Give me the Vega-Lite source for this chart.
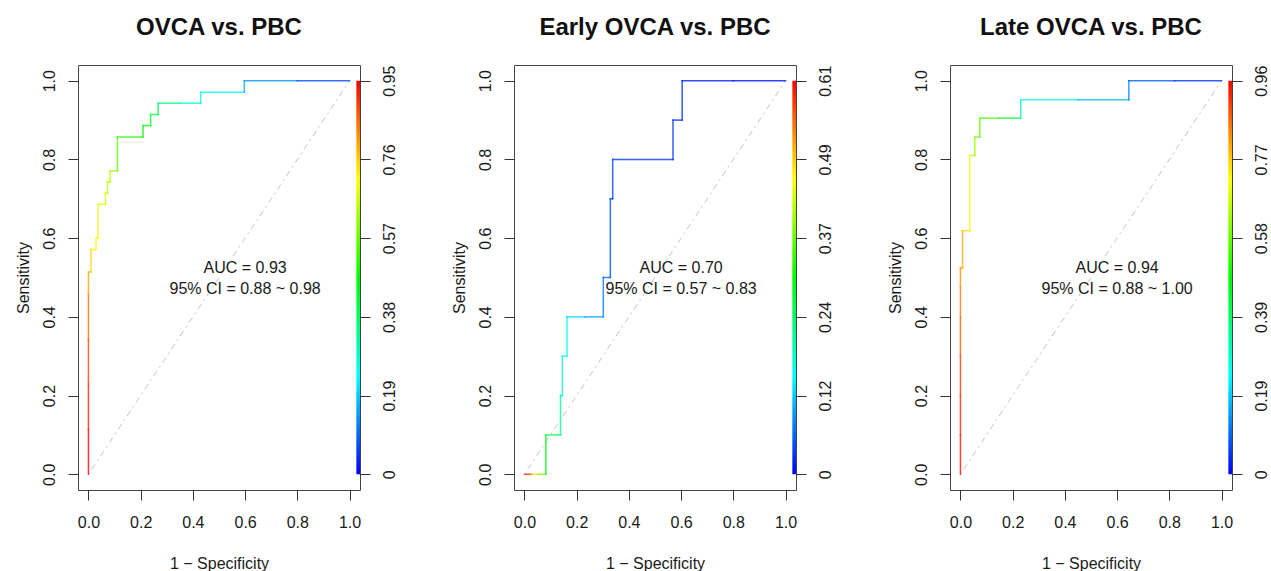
{
  "$schema": "https://vega.github.io/schema/vega-lite/v6.json",
  "background": "white",
  "padding": {"left": 14, "top": 15, "right": 0, "bottom": 0},
  "config": {
    "font": "Liberation Sans",
    "view": {"stroke": "#444", "strokeWidth": 1},
    "title": {"font": "Liberation Sans", "fontSize": 24, "fontWeight": "bold", "color": "#111", "anchor": "middle", "baseline": "alphabetic", "offset": 25, "frame": "group"},
    "axis": {"labelFont": "Liberation Sans", "labelFontSize": 16, "labelColor": "#1a1a1a", "titleFont": "Liberation Sans", "titleFontSize": 16, "titleFontWeight": "normal", "titleColor": "#1a1a1a", "tickSize": 10, "tickColor": "#333", "domain": false, "grid": false, "labelPadding": 11, "titlePadding": 10}
  },
  "datasets": {
    "p1": [
      {"i": 0, "fpr": 0, "tpr": 0, "cutoff": 0.95},
      {"i": 1, "fpr": 0, "tpr": 0.114, "cutoff": 0.92},
      {"i": 2, "fpr": 0, "tpr": 0.229, "cutoff": 0.89},
      {"i": 3, "fpr": 0, "tpr": 0.343, "cutoff": 0.85},
      {"i": 4, "fpr": 0, "tpr": 0.457, "cutoff": 0.8},
      {"i": 5, "fpr": 0, "tpr": 0.514, "cutoff": 0.77},
      {"i": 6, "fpr": 0.01, "tpr": 0.514, "cutoff": 0.75},
      {"i": 7, "fpr": 0.01, "tpr": 0.571, "cutoff": 0.73},
      {"i": 8, "fpr": 0.029, "tpr": 0.571, "cutoff": 0.72},
      {"i": 9, "fpr": 0.029, "tpr": 0.6, "cutoff": 0.71},
      {"i": 10, "fpr": 0.037, "tpr": 0.6, "cutoff": 0.7},
      {"i": 11, "fpr": 0.037, "tpr": 0.686, "cutoff": 0.69},
      {"i": 12, "fpr": 0.065, "tpr": 0.686, "cutoff": 0.675},
      {"i": 13, "fpr": 0.065, "tpr": 0.714, "cutoff": 0.67},
      {"i": 14, "fpr": 0.073, "tpr": 0.714, "cutoff": 0.66},
      {"i": 15, "fpr": 0.073, "tpr": 0.743, "cutoff": 0.655},
      {"i": 16, "fpr": 0.083, "tpr": 0.743, "cutoff": 0.645},
      {"i": 17, "fpr": 0.083, "tpr": 0.771, "cutoff": 0.63},
      {"i": 18, "fpr": 0.111, "tpr": 0.771, "cutoff": 0.56},
      {"i": 19, "fpr": 0.111, "tpr": 0.857, "cutoff": 0.51},
      {"i": 20, "fpr": 0.209, "tpr": 0.857, "cutoff": 0.47},
      {"i": 21, "fpr": 0.209, "tpr": 0.886, "cutoff": 0.455},
      {"i": 22, "fpr": 0.238, "tpr": 0.886, "cutoff": 0.43},
      {"i": 23, "fpr": 0.238, "tpr": 0.914, "cutoff": 0.415},
      {"i": 24, "fpr": 0.267, "tpr": 0.914, "cutoff": 0.39},
      {"i": 25, "fpr": 0.267, "tpr": 0.943, "cutoff": 0.36},
      {"i": 26, "fpr": 0.35, "tpr": 0.943, "cutoff": 0.29},
      {"i": 27, "fpr": 0.43, "tpr": 0.943, "cutoff": 0.25},
      {"i": 28, "fpr": 0.43, "tpr": 0.971, "cutoff": 0.24},
      {"i": 29, "fpr": 0.597, "tpr": 0.971, "cutoff": 0.16},
      {"i": 30, "fpr": 0.597, "tpr": 1.0, "cutoff": 0.14},
      {"i": 31, "fpr": 0.8, "tpr": 1.0, "cutoff": 0.07},
      {"i": 32, "fpr": 1.0, "tpr": 1.0, "cutoff": 0}
    ],
    "p2": [
      {"i": 0, "fpr": 0, "tpr": 0, "cutoff": 0.58},
      {"i": 1, "fpr": 0.027, "tpr": 0, "cutoff": 0.48},
      {"i": 2, "fpr": 0.055, "tpr": 0, "cutoff": 0.38},
      {"i": 3, "fpr": 0.082, "tpr": 0, "cutoff": 0.3},
      {"i": 4, "fpr": 0.082, "tpr": 0.1, "cutoff": 0.26},
      {"i": 5, "fpr": 0.138, "tpr": 0.1, "cutoff": 0.22},
      {"i": 6, "fpr": 0.138, "tpr": 0.2, "cutoff": 0.2},
      {"i": 7, "fpr": 0.145, "tpr": 0.2, "cutoff": 0.17},
      {"i": 8, "fpr": 0.145, "tpr": 0.3, "cutoff": 0.16},
      {"i": 9, "fpr": 0.163, "tpr": 0.3, "cutoff": 0.15},
      {"i": 10, "fpr": 0.163, "tpr": 0.4, "cutoff": 0.13},
      {"i": 11, "fpr": 0.23, "tpr": 0.4, "cutoff": 0.1},
      {"i": 12, "fpr": 0.302, "tpr": 0.4, "cutoff": 0.075},
      {"i": 13, "fpr": 0.302, "tpr": 0.5, "cutoff": 0.06},
      {"i": 14, "fpr": 0.329, "tpr": 0.5, "cutoff": 0.05},
      {"i": 15, "fpr": 0.329, "tpr": 0.7, "cutoff": 0.045},
      {"i": 16, "fpr": 0.338, "tpr": 0.7, "cutoff": 0.04},
      {"i": 17, "fpr": 0.338, "tpr": 0.8, "cutoff": 0.035},
      {"i": 18, "fpr": 0.569, "tpr": 0.8, "cutoff": 0.03},
      {"i": 19, "fpr": 0.569, "tpr": 0.9, "cutoff": 0.028},
      {"i": 20, "fpr": 0.604, "tpr": 0.9, "cutoff": 0.025},
      {"i": 21, "fpr": 0.604, "tpr": 1.0, "cutoff": 0.02},
      {"i": 22, "fpr": 0.8, "tpr": 1.0, "cutoff": 0.01},
      {"i": 23, "fpr": 1.0, "tpr": 1.0, "cutoff": 0}
    ],
    "p3": [
      {"i": 0, "fpr": 0, "tpr": 0, "cutoff": 0.95},
      {"i": 1, "fpr": 0, "tpr": 0.1, "cutoff": 0.93},
      {"i": 2, "fpr": 0, "tpr": 0.2, "cutoff": 0.91},
      {"i": 3, "fpr": 0, "tpr": 0.3, "cutoff": 0.88},
      {"i": 4, "fpr": 0, "tpr": 0.4, "cutoff": 0.85},
      {"i": 5, "fpr": 0, "tpr": 0.476, "cutoff": 0.83},
      {"i": 6, "fpr": 0, "tpr": 0.524, "cutoff": 0.81},
      {"i": 7, "fpr": 0.008, "tpr": 0.524, "cutoff": 0.8},
      {"i": 8, "fpr": 0.008, "tpr": 0.619, "cutoff": 0.76},
      {"i": 9, "fpr": 0.036, "tpr": 0.619, "cutoff": 0.72},
      {"i": 10, "fpr": 0.036, "tpr": 0.81, "cutoff": 0.66},
      {"i": 11, "fpr": 0.055, "tpr": 0.81, "cutoff": 0.63},
      {"i": 12, "fpr": 0.055, "tpr": 0.857, "cutoff": 0.6},
      {"i": 13, "fpr": 0.074, "tpr": 0.857, "cutoff": 0.58},
      {"i": 14, "fpr": 0.074, "tpr": 0.905, "cutoff": 0.55},
      {"i": 15, "fpr": 0.15, "tpr": 0.905, "cutoff": 0.42},
      {"i": 16, "fpr": 0.231, "tpr": 0.905, "cutoff": 0.3},
      {"i": 17, "fpr": 0.231, "tpr": 0.952, "cutoff": 0.25},
      {"i": 18, "fpr": 0.45, "tpr": 0.952, "cutoff": 0.18},
      {"i": 19, "fpr": 0.645, "tpr": 0.952, "cutoff": 0.12},
      {"i": 20, "fpr": 0.645, "tpr": 1.0, "cutoff": 0.09},
      {"i": 21, "fpr": 0.82, "tpr": 1.0, "cutoff": 0.05},
      {"i": 22, "fpr": 1.0, "tpr": 1.0, "cutoff": 0}
    ]
  },
  "spacing": 154,
  "bounds": "flush",
  "resolve": {"scale": {"color": "independent"}},
  "hconcat": [
    {
      "width": 282, "height": 425,
      "title": {"text": "OVCA vs. PBC"},
      "resolve": {"scale": {"y": "independent"}},
      "layer": [
        {
          "layer": [
            {
              "data": {"values": [{}]},
              "mark": {"type": "rule", "color": "#c4c4c4", "strokeWidth": 1, "strokeDash": [2, 4, 6, 4]},
              "encoding": {
                "x": {"datum": 0, "type": "quantitative", "scale": {"domain": [-0.04, 1.04], "nice": false, "zero": false}, "axis": {"values": [0, 0.2, 0.4, 0.6, 0.8, 1.0], "format": ".1f", "labelPadding": 14, "title": "1 − Specificity", "titlePadding": 25}},
                "y": {"datum": 0, "type": "quantitative", "scale": {"domain": [-0.04, 1.04], "nice": false, "zero": false}, "axis": {"orient": "left", "values": [0, 0.2, 0.4, 0.6, 0.8, 1.0], "format": ".1f", "labelAngle": -90, "title": "Sensitivity"}},
                "x2": {"datum": 1},
                "y2": {"datum": 1}
              }
            },
            {
              "data": {"name": "p1"},
              "transform": [
                {"window": [{"op": "lead", "field": "fpr", "as": "fpr2"}, {"op": "lead", "field": "tpr", "as": "tpr2"}], "sort": [{"field": "i"}]},
                {"filter": "datum.fpr2 != null"}
              ],
              "mark": {"type": "rule", "strokeWidth": 1.5, "strokeOpacity": 0.8, "strokeCap": "square"},
              "encoding": {
                "x": {"field": "fpr", "type": "quantitative"},
                "y": {"field": "tpr", "type": "quantitative"},
                "x2": {"field": "fpr2"},
                "y2": {"field": "tpr2"},
                "color": {"field": "cutoff", "type": "quantitative", "legend": null, "scale": {"domain": [0, 0.2375, 0.475, 0.7125, 0.95], "range": ["#0000ff", "#00ffff", "#00ff00", "#ffff00", "#ff0000"], "interpolate": "rgb"}}
              }
            },
            {
              "data": {"values": [{}]},
              "mark": {"type": "text", "font": "Liberation Sans", "fontSize": 16, "color": "#1a1a1a", "align": "center", "baseline": "middle", "lineBreak": "\n", "lineHeight": 21},
              "encoding": {
                "x": {"datum": 0.6, "type": "quantitative"},
                "y": {"datum": 0.524, "type": "quantitative"},
                "text": {"value": "AUC = 0.93\n95% CI = 0.88 ~ 0.98"}
              }
            }
          ]
        },
        {
          "data": {"values": [{}]},
          "mark": {"type": "rect", "color": {"gradient": "linear", "x1": 0, "y1": 1, "x2": 0, "y2": 0, "stops": [{"offset": 0, "color": "#0000ff"}, {"offset": 0.25, "color": "#00ffff"}, {"offset": 0.5, "color": "#00ff00"}, {"offset": 0.75, "color": "#ffff00"}, {"offset": 1, "color": "#ff0000"}]}},
          "encoding": {
            "x": {"datum": 1.026, "type": "quantitative"},
            "x2": {"datum": 1.04},
            "y": {"datum": 0, "type": "quantitative", "scale": {"domain": [-0.038, 0.988], "nice": false, "zero": false}, "axis": {"orient": "right", "values": [0, 0.19, 0.38, 0.57, 0.76, 0.95], "format": ".2~f", "labelAngle": -90, "title": null}},
            "y2": {"datum": 0.95}
          }
        }
      ]
    },
    {
      "width": 282, "height": 425,
      "title": {"text": "Early OVCA vs. PBC"},
      "resolve": {"scale": {"y": "independent"}},
      "layer": [
        {
          "layer": [
            {
              "data": {"values": [{}]},
              "mark": {"type": "rule", "color": "#c4c4c4", "strokeWidth": 1, "strokeDash": [2, 4, 6, 4]},
              "encoding": {
                "x": {"datum": 0, "type": "quantitative", "scale": {"domain": [-0.04, 1.04], "nice": false, "zero": false}, "axis": {"values": [0, 0.2, 0.4, 0.6, 0.8, 1.0], "format": ".1f", "labelPadding": 14, "title": "1 − Specificity", "titlePadding": 25}},
                "y": {"datum": 0, "type": "quantitative", "scale": {"domain": [-0.04, 1.04], "nice": false, "zero": false}, "axis": {"orient": "left", "values": [0, 0.2, 0.4, 0.6, 0.8, 1.0], "format": ".1f", "labelAngle": -90, "title": "Sensitivity"}},
                "x2": {"datum": 1},
                "y2": {"datum": 1}
              }
            },
            {
              "data": {"name": "p2"},
              "transform": [
                {"window": [{"op": "lead", "field": "fpr", "as": "fpr2"}, {"op": "lead", "field": "tpr", "as": "tpr2"}], "sort": [{"field": "i"}]},
                {"filter": "datum.fpr2 != null"}
              ],
              "mark": {"type": "rule", "strokeWidth": 1.5, "strokeOpacity": 0.8, "strokeCap": "square"},
              "encoding": {
                "x": {"field": "fpr", "type": "quantitative"},
                "y": {"field": "tpr", "type": "quantitative"},
                "x2": {"field": "fpr2"},
                "y2": {"field": "tpr2"},
                "color": {"field": "cutoff", "type": "quantitative", "legend": null, "scale": {"domain": [0, 0.1525, 0.305, 0.4575, 0.61], "range": ["#0000ff", "#00ffff", "#00ff00", "#ffff00", "#ff0000"], "interpolate": "rgb"}}
              }
            },
            {
              "data": {"values": [{}]},
              "mark": {"type": "text", "font": "Liberation Sans", "fontSize": 16, "color": "#1a1a1a", "align": "center", "baseline": "middle", "lineBreak": "\n", "lineHeight": 21},
              "encoding": {
                "x": {"datum": 0.6, "type": "quantitative"},
                "y": {"datum": 0.524, "type": "quantitative"},
                "text": {"value": "AUC = 0.70\n95% CI = 0.57 ~ 0.83"}
              }
            }
          ]
        },
        {
          "data": {"values": [{}]},
          "mark": {"type": "rect", "color": {"gradient": "linear", "x1": 0, "y1": 1, "x2": 0, "y2": 0, "stops": [{"offset": 0, "color": "#0000ff"}, {"offset": 0.25, "color": "#00ffff"}, {"offset": 0.5, "color": "#00ff00"}, {"offset": 0.75, "color": "#ffff00"}, {"offset": 1, "color": "#ff0000"}]}},
          "encoding": {
            "x": {"datum": 1.026, "type": "quantitative"},
            "x2": {"datum": 1.04},
            "y": {"datum": 0, "type": "quantitative", "scale": {"domain": [-0.0244, 0.6344], "nice": false, "zero": false}, "axis": {"orient": "right", "values": [0, 0.122, 0.244, 0.366, 0.488, 0.61], "format": ".2~f", "labelAngle": -90, "title": null}},
            "y2": {"datum": 0.61}
          }
        }
      ]
    },
    {
      "width": 282, "height": 425,
      "title": {"text": "Late OVCA vs. PBC"},
      "resolve": {"scale": {"y": "independent"}},
      "layer": [
        {
          "layer": [
            {
              "data": {"values": [{}]},
              "mark": {"type": "rule", "color": "#c4c4c4", "strokeWidth": 1, "strokeDash": [2, 4, 6, 4]},
              "encoding": {
                "x": {"datum": 0, "type": "quantitative", "scale": {"domain": [-0.04, 1.04], "nice": false, "zero": false}, "axis": {"values": [0, 0.2, 0.4, 0.6, 0.8, 1.0], "format": ".1f", "labelPadding": 14, "title": "1 − Specificity", "titlePadding": 25}},
                "y": {"datum": 0, "type": "quantitative", "scale": {"domain": [-0.04, 1.04], "nice": false, "zero": false}, "axis": {"orient": "left", "values": [0, 0.2, 0.4, 0.6, 0.8, 1.0], "format": ".1f", "labelAngle": -90, "title": "Sensitivity"}},
                "x2": {"datum": 1},
                "y2": {"datum": 1}
              }
            },
            {
              "data": {"name": "p3"},
              "transform": [
                {"window": [{"op": "lead", "field": "fpr", "as": "fpr2"}, {"op": "lead", "field": "tpr", "as": "tpr2"}], "sort": [{"field": "i"}]},
                {"filter": "datum.fpr2 != null"}
              ],
              "mark": {"type": "rule", "strokeWidth": 1.5, "strokeOpacity": 0.8, "strokeCap": "square"},
              "encoding": {
                "x": {"field": "fpr", "type": "quantitative"},
                "y": {"field": "tpr", "type": "quantitative"},
                "x2": {"field": "fpr2"},
                "y2": {"field": "tpr2"},
                "color": {"field": "cutoff", "type": "quantitative", "legend": null, "scale": {"domain": [0, 0.241, 0.482, 0.723, 0.964], "range": ["#0000ff", "#00ffff", "#00ff00", "#ffff00", "#ff0000"], "interpolate": "rgb"}}
              }
            },
            {
              "data": {"values": [{}]},
              "mark": {"type": "text", "font": "Liberation Sans", "fontSize": 16, "color": "#1a1a1a", "align": "center", "baseline": "middle", "lineBreak": "\n", "lineHeight": 21},
              "encoding": {
                "x": {"datum": 0.6, "type": "quantitative"},
                "y": {"datum": 0.524, "type": "quantitative"},
                "text": {"value": "AUC = 0.94\n95% CI = 0.88 ~ 1.00"}
              }
            }
          ]
        },
        {
          "data": {"values": [{}]},
          "mark": {"type": "rect", "color": {"gradient": "linear", "x1": 0, "y1": 1, "x2": 0, "y2": 0, "stops": [{"offset": 0, "color": "#0000ff"}, {"offset": 0.25, "color": "#00ffff"}, {"offset": 0.5, "color": "#00ff00"}, {"offset": 0.75, "color": "#ffff00"}, {"offset": 1, "color": "#ff0000"}]}},
          "encoding": {
            "x": {"datum": 1.026, "type": "quantitative"},
            "x2": {"datum": 1.04},
            "y": {"datum": 0, "type": "quantitative", "scale": {"domain": [-0.03856, 1.00256], "nice": false, "zero": false}, "axis": {"orient": "right", "values": [0, 0.1928, 0.3856, 0.5784, 0.7712, 0.964], "format": ".2~f", "labelAngle": -90, "title": null}},
            "y2": {"datum": 0.964}
          }
        }
      ]
    }
  ]
}
